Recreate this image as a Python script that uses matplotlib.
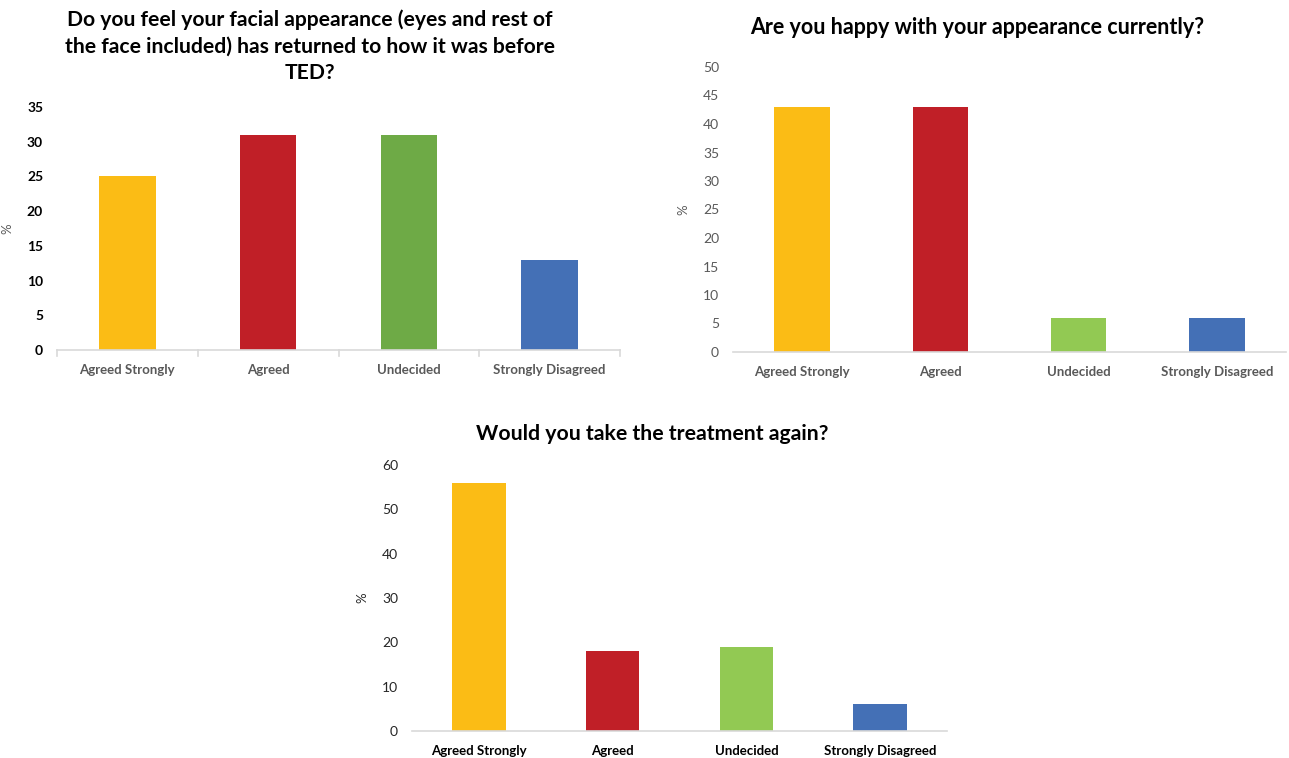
import matplotlib.pyplot as plt

# survey answers, % of respondents
categories = ["Agreed Strongly", "Agreed", "Undecided", "Strongly Disagreed"]
returned_to_before = [25, 31, 31, 13]
happy_now = [43, 43, 6, 6]
take_again = [56, 18, 19, 6]

titles = [
    "Do you feel your facial appearance (eyes and rest of\n"
    "the face included) has returned to how it was before\nTED?",
    "Are you happy with your appearance currently?",
    "Would you take the treatment again?",
]

YELLOW = "#FBBC15"
RED = "#C01F27"
GREEN_DARK = "#6EAA46"
GREEN_LIGHT = "#92C953"
BLUE = "#4470B6"
GREY = "#595959"
AXIS_GREY = "#D9D9D9"

plt.rcParams["font.family"] = ["Lato", "DejaVu Sans"]

W, H = 1289, 758
fig = plt.figure(figsize=(W / 100, H / 100), dpi=100)


def px_axes(left, top, right, bottom):
    return fig.add_axes([left / W, 1 - bottom / H, (right - left) / W, (bottom - top) / H])


def bar_panel(ax, values, colors, ymax, step, ytick_color, xtick_color, ylab_color,
              ytick_weight="bold", boundary_ticks=False):
    x = range(len(categories))
    ax.bar(x, values, width=0.4, color=colors)
    ax.set_xlim(-0.5, len(categories) - 0.5)
    ax.set_ylim(0, ymax)
    ax.set_yticks(range(0, ymax + 1, step))
    ax.set_xticks(list(x))
    ax.set_xticklabels(categories, fontsize=9.5, fontweight="bold", color=xtick_color)
    for lab in ax.get_yticklabels():
        lab.set_fontsize(10)
        lab.set_fontweight(ytick_weight)
        lab.set_color(ytick_color)
    ax.tick_params(axis="y", length=0, pad=10)
    ax.tick_params(axis="x", length=0, pad=10)
    for side in ("top", "right", "left"):
        ax.spines[side].set_visible(False)
    ax.spines["bottom"].set_color(AXIS_GREY)
    ax.spines["bottom"].set_linewidth(1.2)
    ax.set_ylabel("%", fontsize=9.5, color=ylab_color, labelpad=10)
    if boundary_ticks:
        for b in [i - 0.5 for i in range(len(categories) + 1)]:
            ax.plot([b, b], [0, -ymax * 0.025], color=AXIS_GREY, lw=1.2, clip_on=False)


ax1 = px_axes(57, 107, 620, 350)
bar_panel(ax1, returned_to_before, [YELLOW, RED, GREEN_DARK, BLUE], 35, 5,
          "black", GREY, GREY, boundary_ticks=True)

ax2 = px_axes(733, 67, 1286, 352)
bar_panel(ax2, happy_now, [YELLOW, RED, GREEN_LIGHT, BLUE], 50, 5,
          GREY, GREY, GREY, ytick_weight="normal")

ax3 = px_axes(412, 465, 947, 731)
bar_panel(ax3, take_again, [YELLOW, RED, GREEN_LIGHT, BLUE], 60, 10,
          "#262626", "black", "#262626", ytick_weight="normal")

fig.text(310 / W, 1 - 46 / H, titles[0], ha="center", va="center",
         fontsize=15.2, fontweight="bold", linespacing=1.4)
fig.text(977 / W, 1 - 28 / H, titles[1], ha="center", va="center",
         fontsize=15.5, fontweight="bold")
fig.text(652 / W, 1 - 434 / H, titles[2], ha="center", va="center",
         fontsize=15.3, fontweight="bold")

fig.savefig("out.png", dpi=100, facecolor="white")
